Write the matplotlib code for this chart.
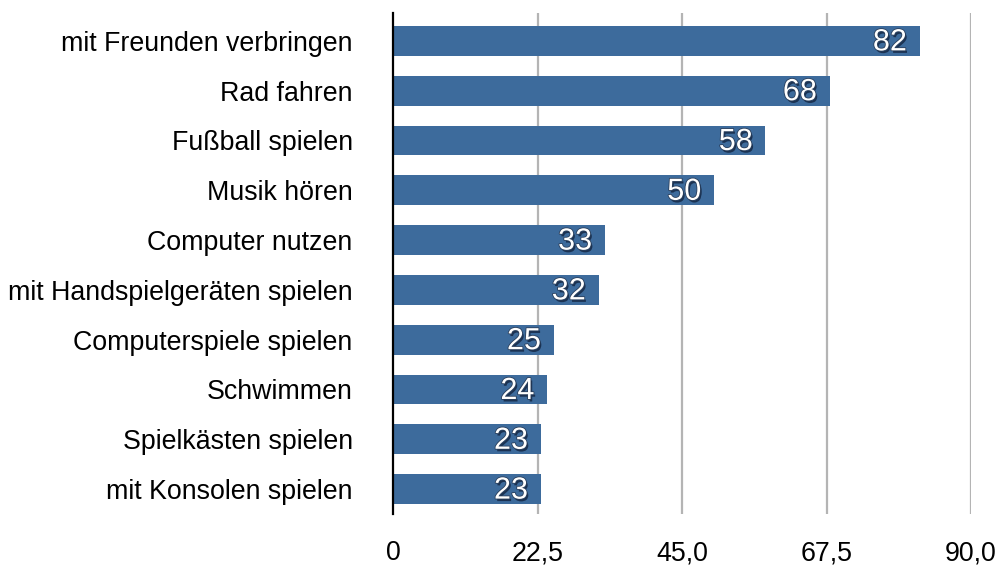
import matplotlib
matplotlib.use("Agg")
import matplotlib.pyplot as plt
import matplotlib.patheffects as pe

categories = ["mit Freunden verbringen", "Rad fahren", "Fußball spielen", "Musik hören",
              "Computer nutzen", "mit Handspielgeräten spielen", "Computerspiele spielen",
              "Schwimmen", "Spielkästen spielen", "mit Konsolen spielen"]
values = [82, 68, 58, 50, 33, 32, 25, 24, 23, 23]
xticks = [0, 22.5, 45.0, 67.5, 90.0]
xtick_labels = ["0", "22,5", "45,0", "67,5", "90,0"]

plt.rcParams['font.family'] = ['Liberation Sans', 'DejaVu Sans']

fig = plt.figure(figsize=(9.99, 5.65), dpi=100)
ax = fig.add_axes([393/999, 1-514/565, (971-393)/999, (514-13)/565])

ypos = list(range(len(categories)))
ax.barh(ypos, values, height=0.6, color="#3D6B9C", zorder=3)
ax.set_ylim(len(categories) - 0.5, -0.56)
ax.set_xlim(0, 90)

ax.set_xticks(xticks)
ax.set_xticklabels(xtick_labels, fontsize=19.3)
ax.set_yticks(ypos)
ax.set_yticklabels(categories, fontsize=19.3)
ax.tick_params(axis='both', length=0)
ax.tick_params(axis='y', pad=29)
ax.tick_params(axis='x', pad=19)

for x in xticks[1:]:
    ax.axvline(x, color="#B4B4B4", lw=1.6, zorder=1)

for s in ["top", "right", "bottom"]:
    ax.spines[s].set_visible(False)
ax.spines["left"].set_linewidth(1.6)
ax.spines["left"].set_color("black")
ax.spines["left"].set_zorder(4)

effects = [pe.SimplePatchShadow(offset=(1.2, -1.8), shadow_rgbFace="#10203a", alpha=0.75),
           pe.Stroke(linewidth=1.2, foreground="#2a3f5c"),
           pe.Normal()]
for y, v in zip(ypos, values):
    ax.text(v - 2.0, y + 0.03, str(v), ha="right", va="center", color="white",
            fontsize=22, zorder=5, path_effects=effects)

fig.savefig("out.png", dpi=100)
